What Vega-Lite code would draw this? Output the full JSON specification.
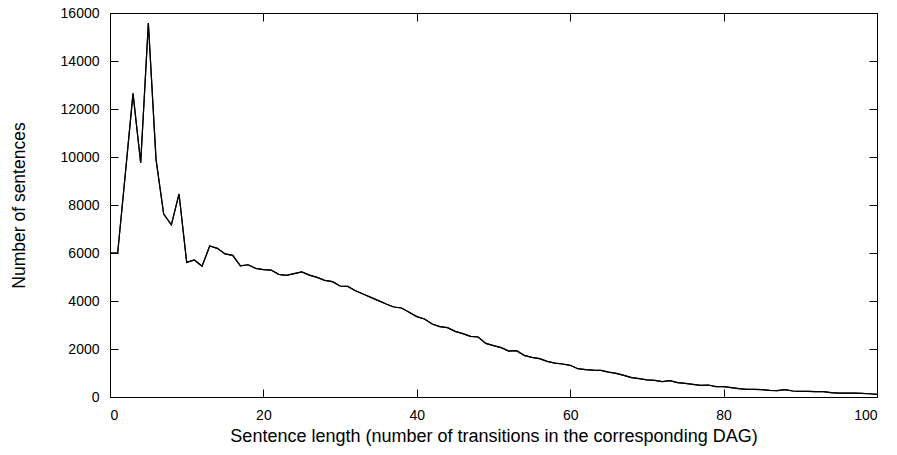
{
  "$schema": "https://vega.github.io/schema/vega-lite/v6.json",
  "autosize": {"type": "none"},
  "padding": {"left": 110, "top": 13, "right": 20, "bottom": 58},
  "width": 767,
  "height": 384,
  "background": "white",
  "config": {
    "view": {"stroke": "black", "strokeWidth": 1},
    "axis": {
      "labelFont": "Liberation Sans",
      "titleFont": "Liberation Sans",
      "labelFontSize": 14,
      "titleFontSize": 18,
      "titleFontWeight": "normal",
      "labelColor": "black",
      "titleColor": "black",
      "domainColor": "black",
      "tickColor": "black",
      "grid": false,
      "tickSize": -8
    }
  },
  "data": {
    "values": [
      {"len": 0, "count": 6000}, {"len": 1, "count": 6000}, {"len": 2, "count": 9300},
      {"len": 3, "count": 12650}, {"len": 4, "count": 9750}, {"len": 5, "count": 15580},
      {"len": 6, "count": 9900}, {"len": 7, "count": 7620}, {"len": 8, "count": 7170},
      {"len": 9, "count": 8460}, {"len": 10, "count": 5610}, {"len": 11, "count": 5710},
      {"len": 12, "count": 5445}, {"len": 13, "count": 6290}, {"len": 14, "count": 6195},
      {"len": 15, "count": 5960}, {"len": 16, "count": 5900}, {"len": 17, "count": 5460},
      {"len": 18, "count": 5510}, {"len": 19, "count": 5360}, {"len": 20, "count": 5305},
      {"len": 21, "count": 5290}, {"len": 22, "count": 5110}, {"len": 23, "count": 5070},
      {"len": 24, "count": 5140}, {"len": 25, "count": 5210}, {"len": 26, "count": 5080},
      {"len": 27, "count": 4985}, {"len": 28, "count": 4860}, {"len": 29, "count": 4805},
      {"len": 30, "count": 4625}, {"len": 31, "count": 4610}, {"len": 32, "count": 4430},
      {"len": 33, "count": 4290}, {"len": 34, "count": 4150}, {"len": 35, "count": 4015},
      {"len": 36, "count": 3875}, {"len": 37, "count": 3750}, {"len": 38, "count": 3710},
      {"len": 39, "count": 3530}, {"len": 40, "count": 3350}, {"len": 41, "count": 3250},
      {"len": 42, "count": 3040}, {"len": 43, "count": 2930}, {"len": 44, "count": 2890},
      {"len": 45, "count": 2735}, {"len": 46, "count": 2640}, {"len": 47, "count": 2525},
      {"len": 48, "count": 2500}, {"len": 49, "count": 2235}, {"len": 50, "count": 2140},
      {"len": 51, "count": 2055}, {"len": 52, "count": 1915}, {"len": 53, "count": 1930},
      {"len": 54, "count": 1735}, {"len": 55, "count": 1650}, {"len": 56, "count": 1600},
      {"len": 57, "count": 1485}, {"len": 58, "count": 1415}, {"len": 59, "count": 1375},
      {"len": 60, "count": 1320}, {"len": 61, "count": 1180}, {"len": 62, "count": 1140},
      {"len": 63, "count": 1120}, {"len": 64, "count": 1110}, {"len": 65, "count": 1040},
      {"len": 66, "count": 985}, {"len": 67, "count": 900}, {"len": 68, "count": 805},
      {"len": 69, "count": 765}, {"len": 70, "count": 710}, {"len": 71, "count": 695},
      {"len": 72, "count": 640}, {"len": 73, "count": 680}, {"len": 74, "count": 600},
      {"len": 75, "count": 570}, {"len": 76, "count": 530}, {"len": 77, "count": 485},
      {"len": 78, "count": 500}, {"len": 79, "count": 430}, {"len": 80, "count": 430},
      {"len": 81, "count": 390}, {"len": 82, "count": 350}, {"len": 83, "count": 320},
      {"len": 84, "count": 320}, {"len": 85, "count": 305}, {"len": 86, "count": 280},
      {"len": 87, "count": 265}, {"len": 88, "count": 305}, {"len": 89, "count": 250},
      {"len": 90, "count": 235}, {"len": 91, "count": 235}, {"len": 92, "count": 220},
      {"len": 93, "count": 220}, {"len": 94, "count": 180}, {"len": 95, "count": 165},
      {"len": 96, "count": 165}, {"len": 97, "count": 165}, {"len": 98, "count": 150},
      {"len": 99, "count": 135}, {"len": 100, "count": 110}
    ]
  },
  "layer": [
    {
      "mark": {"type": "line", "color": "black", "strokeWidth": 1.2},
      "encoding": {
        "x": {
          "field": "len", "type": "quantitative",
          "scale": {"domain": [0, 100], "nice": false, "zero": false},
          "axis": {"values": [0, 20, 40, 60, 80, 100], "labelPadding": 19, "title": "Sentence length (number of transitions in the corresponding DAG)", "titlePadding": 5}
        },
        "y": {
          "field": "count", "type": "quantitative",
          "scale": {"domain": [0, 16000], "nice": false},
          "axis": {"values": [0, 2000, 4000, 6000, 8000, 10000, 12000, 14000, 16000], "format": "d", "labelPadding": 19, "title": "Number of sentences", "titleFontSize": 17.5, "titlePadding": 32}
        }
      }
    },
    {
      "mark": {"type": "line", "color": "black", "strokeWidth": 1.2},
      "encoding": {
        "x": {
          "field": "len", "type": "quantitative",
          "scale": {"domain": [0, 100], "nice": false, "zero": false},
          "axis": {"orient": "top", "values": [0, 20, 40, 60, 80, 100], "labels": false, "title": null}
        },
        "y": {
          "field": "count", "type": "quantitative",
          "scale": {"domain": [0, 16000], "nice": false},
          "axis": {"orient": "right", "values": [0, 2000, 4000, 6000, 8000, 10000, 12000, 14000, 16000], "labels": false, "title": null}
        }
      }
    }
  ],
  "resolve": {"axis": {"x": "independent", "y": "independent"}}
}
